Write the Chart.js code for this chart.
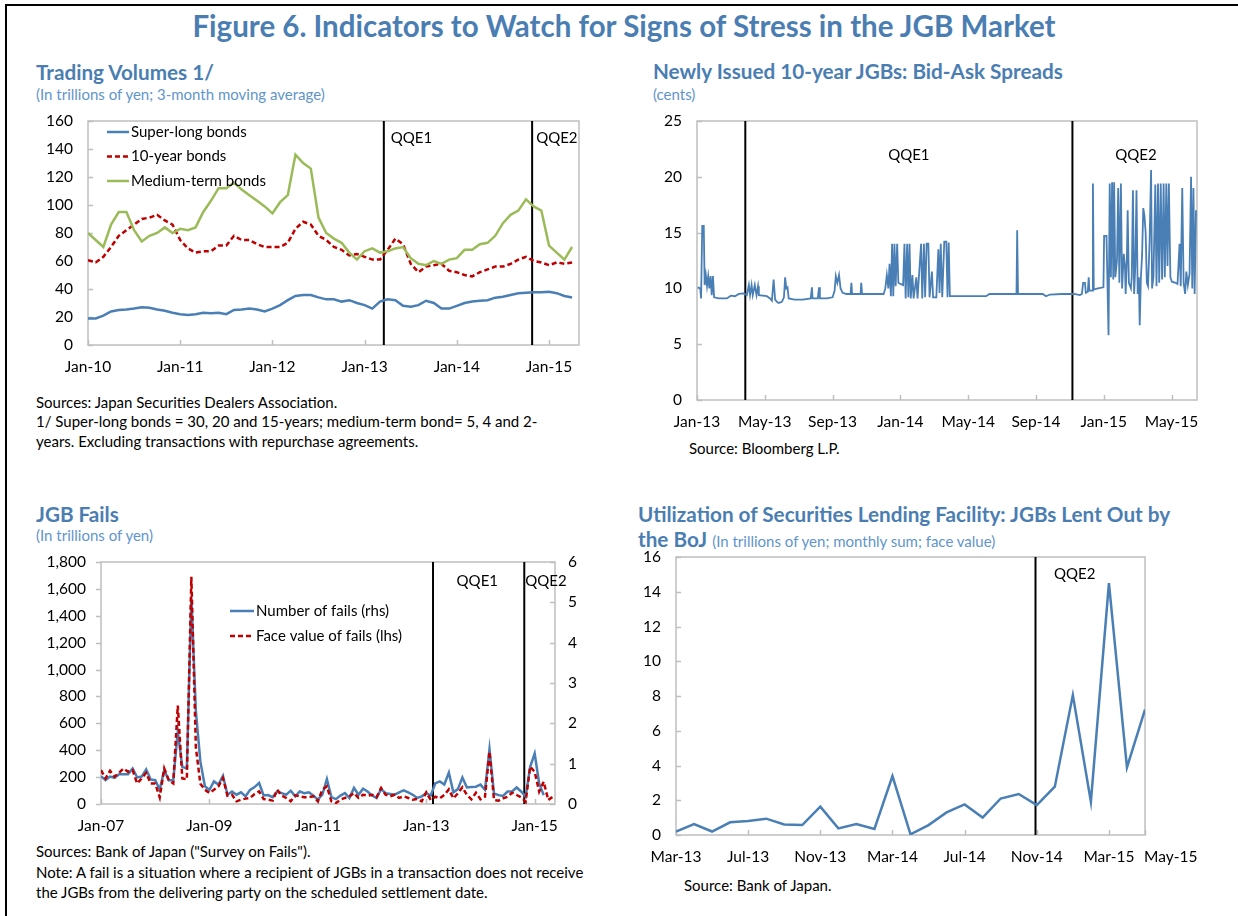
<!DOCTYPE html>
<html lang="en">
<head>
<meta charset="UTF-8">
<title>Figure 6. Indicators to Watch for Signs of Stress in the JGB Market</title>
<script src="https://cdn.jsdelivr.net/npm/chart.js"></script>
<style>
  body { margin: 0; background: #fff; font-family: Lato, 'Open Sans', sans-serif; }
  #page { position: relative; width: 1238px; height: 916px; overflow: hidden; }
  #frame { position: absolute; left: 5px; top: 4px; width: 1300px; height: 1000px;
           border-top: 2px solid #000; border-left: 2px solid #000; }
  .txt { position: absolute; white-space: nowrap; line-height: 1; }
  .title { left: 10px; width: 1228px; text-align: center; top: 11px; font-size: 29.5px; font-weight: bold; color: #4a7eb2; }
  .head { color: #4a7eb2; font-weight: bold; font-size: 20.7px; }
  .sub { color: #5f95cc; font-size: 15px; font-weight: normal; }
  .note { color: #000; font-size: 15px; }
  canvas { position: absolute; }
</style>
</head>
<body>
<div id="page">
  <div id="frame"></div>
  <div class="txt title">Figure 6. Indicators to Watch for Signs of Stress in the JGB Market</div>

  <div class="txt head" style="left:36px; top:61.5px;">Trading Volumes 1/</div>
  <div class="txt sub" style="left:36px; top:86.7px;">(In trillions of yen; 3-month moving average)</div>
  <div class="txt note" style="left:36px; top:395px;">Sources: Japan Securities Dealers Association.</div>
  <div class="txt note" style="left:36px; top:414px;">1/ Super-long bonds = 30, 20 and 15-years; medium-term bond= 5, 4 and 2-</div>
  <div class="txt note" style="left:36px; top:434px;">years. Excluding transactions with repurchase agreements.</div>

  <div class="txt head" style="left:653px; top:61px;">Newly Issued 10-year JGBs: Bid-Ask Spreads</div>
  <div class="txt sub" style="left:653px; top:86.7px;">(cents)</div>
  <div class="txt note" style="left:689px; top:441px;">Source: Bloomberg L.P.</div>

  <div class="txt head" style="left:36px; top:503.6px;">JGB Fails</div>
  <div class="txt sub" style="left:36px; top:527.7px;">(In trillions of yen)</div>
  <div class="txt note" style="left:36px; top:844px;">Sources: Bank of Japan ("Survey on Fails").</div>
  <div class="txt note" style="left:36px; top:865px;">Note: A fail is a situation where a recipient of JGBs in a transaction does not receive</div>
  <div class="txt note" style="left:36px; top:885px;">the JGBs from the delivering party on the scheduled settlement date.</div>

  <div class="txt head" style="left:638px; top:503.6px;">Utilization of Securities Lending Facility: JGBs Lent Out by</div>
  <div class="txt head" style="left:638px; top:528.6px;">the BoJ <span class="sub">(In trillions of yen; monthly sum; face value)</span></div>
  <div class="txt note" style="left:684px; top:878px;">Source: Bank of Japan.</div>

  <canvas id="volumes"></canvas>
  <canvas id="spreads"></canvas>
  <canvas id="fails"></canvas>
  <canvas id="lending"></canvas>
</div>

<script>
// ---- Trading volumes, monthly from Jan-10 (trillions of yen) ----
const volumeTicks = ['Jan-10', 'Jan-11', 'Jan-12', 'Jan-13', 'Jan-14', 'Jan-15'];
const superLong = [19, 19, 21, 24, 25, 25.4, 26, 27, 26.6, 25.4,
                   24.5, 23, 22, 21.4, 22, 23, 22.6, 23, 22, 25,
                   25.4, 26, 25.4, 24, 26, 28.5, 32, 35, 35.7, 35.7,
                   34, 32.6, 32.6, 31, 32, 30, 28.5, 26, 31, 32.6,
                   32, 28, 27.3, 28.5, 31.6, 30, 26, 26, 28, 30,
                   31, 31.6, 32, 33.8, 34.5, 35.7, 37, 37.3, 37.6, 37.6,
                   38, 37, 35, 34];
const tenYear = [60.6, 59, 63, 70, 78, 82, 86, 90, 91, 93,
                 89, 86, 75, 69, 66, 67, 67, 71, 71, 78,
                 75, 75, 72, 70, 70, 70, 73, 83, 88, 86,
                 78, 75, 70, 68, 64, 65, 63, 61, 61, 68,
                 76, 72, 58, 52, 56, 57, 58, 53, 52, 50,
                 49, 52, 54, 56, 56, 58, 61, 63, 60, 59,
                 57, 59, 58, 59];
const mediumTerm = [80, 75, 70, 86, 95, 95, 82, 74, 78, 80,
                    84, 80, 83, 82, 84, 95, 103, 112, 112, 116,
                    111, 107, 103, 99, 94, 102, 107, 136, 130, 126,
                    91, 80, 76, 73, 66, 61, 67, 69, 66, 67,
                    69, 70, 62, 58, 57, 60, 58, 61, 62, 68,
                    68, 72, 73, 78, 87, 93, 96, 104, 99, 96,
                    71, 66, 61, 70];

// ---- Bid-ask spreads (cents); x = months since Jan-13 ----
const spreadTicks = ['Jan-13', 'May-13', 'Sep-13', 'Jan-14', 'May-14', 'Sep-14', 'Jan-15', 'May-15'];
const spreadMonths = [
  0.05, 0.19, 0.24, 0.31, 0.40, 0.45, 0.52, 0.59, 0.66, 0.73,
  0.80, 0.87, 0.94, 1.01, 1.29, 1.76, 2.00, 2.24, 2.47, 2.75,
  2.94, 3.06, 3.13, 3.22, 3.29, 3.41, 3.51, 3.60, 3.65, 4.12,
  4.31, 4.42, 4.52, 4.61, 4.71, 4.82, 5.01, 5.13, 5.20, 5.27,
  5.34, 5.41, 5.76, 6.24, 6.71, 6.78, 6.82, 7.13, 7.20, 7.25,
  7.65, 8.00, 8.12, 8.19, 8.28, 8.38, 8.47, 8.59, 8.82, 9.06,
  9.11, 9.15, 9.65, 9.69, 9.74, 10.47,
  11.01, 11.11, 11.20, 11.29, 11.36, 11.44, 11.51, 11.58, 11.65, 11.72,
  11.81, 11.88, 12.00, 12.16, 12.24, 12.31, 12.40, 12.47, 12.54, 12.61,
  12.71, 12.78, 12.94, 13.01, 13.22, 13.29, 13.39, 13.46, 13.55, 13.65,
  13.72, 13.86, 13.93, 14.12, 14.24, 14.31, 14.38, 14.47, 14.59, 14.71,
  14.78, 14.85, 14.92,
  15.18, 15.88, 16.59, 17.06, 17.25, 18.00, 18.85, 18.89, 18.94, 19.65,
  20.40, 20.59, 20.82, 21.53,
  22.24, 22.59, 22.71, 22.78, 22.89, 22.94, 23.06, 23.11, 23.15, 23.32,
  23.36, 23.41, 23.65, 23.98, 24.02, 24.16, 24.28, 24.35, 24.42, 24.49,
  24.56, 24.61, 24.68, 24.78, 24.85, 24.92, 25.01, 25.08, 25.18, 25.25,
  25.29, 25.36, 25.41, 25.48, 25.60, 25.65, 25.72, 25.79, 25.86, 25.93,
  26.00, 26.07, 26.12, 26.19, 26.26, 26.33, 26.40, 26.47, 26.54, 26.61,
  26.70, 26.79, 26.85, 26.93, 27.04, 27.11, 27.20, 27.27, 27.36, 27.44,
  27.53, 27.60, 27.69, 27.76, 27.84, 27.93, 28.02, 28.24, 28.35, 28.47,
  28.54, 28.63, 28.71, 28.80, 28.87, 28.96, 29.06, 29.15, 29.22, 29.29,
  29.36, 29.44];
const spreadValues = [
  10.1, 10.0, 9.1, 15.6, 15.6, 10.3, 11.2, 10.2, 11.1, 10.0,
  11.1, 9.4, 11.1, 9.2, 9.1, 9.1, 9.35, 9.3, 9.5, 9.55,
  9.4, 10.3, 9.4, 10.3, 9.4, 10.3, 9.4, 10.2, 9.4, 9.3,
  9.1, 8.9, 10.8, 9.0, 8.8, 8.7, 8.8, 9.2, 11.0, 10.0,
  10.1, 9.1, 9.0, 9.0, 9.1, 10.1, 9.1, 9.1, 10.1, 9.1,
  9.1, 9.2, 9.8, 11.1, 10.5, 11.2, 10.0, 9.6, 9.5, 9.5,
  10.5, 9.5, 9.5, 10.5, 9.5, 9.5,
  9.5, 10.0, 11.2, 10.0, 12.2, 9.3, 14.0, 9.3, 14.0, 10.2,
  14.0, 10.5, 10.4, 10.3, 14.0, 9.1, 14.0, 9.2, 14.0, 9.1,
  11.2, 9.1, 11.0, 9.1, 14.0, 9.1, 14.0, 9.2, 14.0, 14.0,
  9.2, 11.5, 9.2, 9.2, 13.5, 9.6, 14.0, 9.2, 14.2, 14.2,
  9.2, 14.1, 9.3,
  9.3, 9.3, 9.3, 9.3, 9.5, 9.5, 9.5, 15.2, 9.5, 9.5,
  9.5, 9.3, 9.45, 9.5,
  9.5, 9.4, 9.5, 10.5, 10.5, 9.6, 9.7, 11.0, 9.8, 9.8,
  19.4, 9.9, 10.0, 10.1, 14.7, 14.7, 5.8, 19.4, 11.0, 19.5,
  10.8, 19.5, 11.0, 12.5, 19.0, 10.5, 19.4, 10.0, 13.1, 12.0,
  9.5, 12.5, 17.0, 10.5, 10.0, 11.0, 18.8, 9.5, 12.0, 18.8,
  9.5, 11.0, 6.7, 11.0, 13.0, 17.2, 16.5, 15.0, 10.5, 10.2,
  14.0, 20.6, 10.0, 11.0, 19.3, 10.2, 19.4, 10.5, 19.4, 10.8,
  19.4, 11.0, 19.4, 12.0, 19.4, 11.0, 10.6, 10.5, 10.4, 14.0,
  10.2, 19.0, 10.5, 9.5, 11.5, 10.3, 11.3, 20.0, 10.0, 19.0,
  9.5, 17.0];

// ---- JGB fails, monthly from Jan-07 ----
const failsTicks = ['Jan-07', 'Jan-09', 'Jan-11', 'Jan-13', 'Jan-15'];
const failsNumber = [0.69, 0.59, 0.68, 0.65, 0.74, 0.74, 0.74, 0.88, 0.66, 0.68,
                     0.86, 0.61, 0.59, 0.36, 0.84, 0.59, 0.59, 1.79, 0.92, 0.88,
                     5.12, 2.3, 1.05, 0.44, 0.35, 0.56, 0.48, 0.7, 0.23, 0.31,
                     0.23, 0.29, 0.19, 0.35, 0.42, 0.52, 0.21, 0.22, 0.17, 0.31,
                     0.27, 0.23, 0.33, 0.19, 0.31, 0.27, 0.29, 0.21, 0.11, 0.23,
                     0.62, 0.17, 0.12, 0.21, 0.27, 0.15, 0.4, 0.23, 0.38, 0.31,
                     0.21, 0.15, 0.37, 0.27, 0.25, 0.23, 0.29, 0.34, 0.29, 0.23,
                     0.15, 0.19, 0.27, 0.21, 0.51, 0.56, 0.48, 0.78, 0.29, 0.37,
                     0.66, 0.41, 0.42, 0.43, 0.48, 0.35, 1.36, 0.26, 0.22, 0.2,
                     0.31, 0.31, 0.41, 0.31, 0.18, 0.92, 1.25, 0.51, 0.22];
const failsValue = [252, 190, 247, 203, 232, 264, 240, 252, 153, 190,
                    232, 153, 153, 49, 264, 178, 153, 733, 190, 183,
                    1690, 420, 150, 106, 82, 106, 131, 193, 62, 69,
                    20, 32, 40, 45, 74, 94, 37, 32, 25, 106,
                    62, 45, 20, 64, 57, 50, 52, 57, 20, 106,
                    131, 20, 7, 32, 45, 57, 82, 45, 69, 62,
                    69, 50, 119, 69, 57, 69, 45, 57, 45, 32,
                    37, 20, 87, 30, 54, 42, 67, 109, 42, 79,
                    124, 67, 35, 84, 35, 54, 389, 30, 25, 42,
                    54, 84, 67, 50, 17, 277, 240, 92, 166, 30,
                    54];

// ---- Securities lending facility, monthly from Mar-13 ----
const lendingTicks = ['Mar-13', 'Jul-13', 'Nov-13', 'Mar-14', 'Jul-14', 'Nov-14', 'Mar-15', 'May-15'];
const lendingValues = [0.2, 0.63, 0.2, 0.73, 0.8, 0.94, 0.61, 0.57, 1.63, 0.38,
                       0.63, 0.35, 3.39, 0.04, 0.57, 1.3, 1.76, 1.0, 2.1, 2.36,
                       1.72, 2.78, 8.05, 1.92, 14.5, 3.89, 7.22];

const blue = '#4a7fb5';
const red = '#c00000';
const green = '#9bbb59';

Chart.defaults.font.family = 'Lato, "Open Sans", sans-serif';
Chart.defaults.font.size = 15.5;
Chart.defaults.color = '#000';

// plot frame and the small tick marks
const framePlugin = {
  id: 'frame',
  beforeDatasetsDraw(chart, args, opts) {
    const { ctx, chartArea: a } = chart;
    ctx.save();
    ctx.strokeStyle = '#bfbfbf';
    ctx.lineWidth = 1.5;
    ctx.strokeRect(a.left, a.top, a.width, a.height);
    (opts.ticks || []).forEach(t => {
      const s = chart.scales[t.axis];
      s.ticks.forEach(tk => {
        const p = Math.round(s.getPixelForValue(tk.value)) + 0.5;
        ctx.beginPath();
        if (s.isHorizontal()) { ctx.moveTo(p, a.bottom); ctx.lineTo(p, a.bottom - t.len); }
        else if (s.position === 'right') { ctx.moveTo(a.right, p); ctx.lineTo(a.right - t.len, p); }
        else { ctx.moveTo(a.left, p); ctx.lineTo(a.left + t.len, p); }
        ctx.stroke();
      });
    });
    ctx.restore();
  }
};

// QQE vertical lines and their labels
const markerPlugin = {
  id: 'markers',
  beforeDatasetsDraw(chart, args, opts) {
    const { ctx, chartArea: a, scales } = chart;
    ctx.save();
    ctx.strokeStyle = '#000';
    ctx.lineWidth = 2;
    (opts.lines || []).forEach(v => {
      const px = scales.x.getPixelForValue(v);
      ctx.beginPath(); ctx.moveTo(px, a.top); ctx.lineTo(px, a.bottom); ctx.stroke();
    });
    ctx.fillStyle = '#000';
    ctx.font = '15px Lato';
    ctx.textBaseline = 'middle';
    (opts.labels || []).forEach(l => {
      ctx.textAlign = l.align || 'center';
      ctx.fillText(l.text, scales.x.getPixelForValue(l.x) + (l.dx || 0), scales.y.getPixelForValue(l.y));
    });
    ctx.restore();
  }
};

// legend drawn inside the plot area
const keyPlugin = {
  id: 'key',
  afterDatasetsDraw(chart, args, opts) {
    if (!opts.items) return;
    const { ctx, chartArea: a } = chart;
    ctx.save();
    ctx.font = '15px Lato';
    ctx.textBaseline = 'middle';
    ctx.textAlign = 'left';
    ctx.fillStyle = '#000';
    opts.items.forEach((idx, row) => {
      const ds = chart.data.datasets[idx];
      const y = a.top + opts.top + row * opts.step;
      const x0 = a.left + opts.left;
      ctx.strokeStyle = ds.borderColor;
      ctx.lineWidth = ds.borderWidth;
      ctx.setLineDash(ds.borderDash || []);
      ctx.beginPath(); ctx.moveTo(x0, y); ctx.lineTo(x0 + opts.len, y); ctx.stroke();
      ctx.setLineDash([]);
      ctx.fillText(ds.label, x0 + opts.len + 2, y);
    });
    ctx.restore();
  }
};

// put the canvas on the page and pin its plot area to the given box
function buildChart(id, box, plot, cfg) {
  const cv = document.getElementById(id);
  cv.width = box.w; cv.height = box.h;
  cv.style.left = box.x + 'px'; cv.style.top = box.y + 'px';
  cv.style.width = box.w + 'px'; cv.style.height = box.h + 'px';
  const sc = cfg.options.scales;
  // vertical axes: fixed width, and no extra room reserved above/below for the end labels
  const fitY = w => s => { s.width = w; s.paddingTop = 0; s.paddingBottom = 0; };
  sc.x.afterFit = s => { s.height = box.y + box.h - plot.bottom; };
  sc.y.afterFit = fitY(plot.left - box.x);
  let right = box.x + box.w - plot.right;
  if (sc.y1) { sc.y1.afterFit = fitY(right); right = 0; }
  cfg.options.layout = { autoPadding: false,
                         padding: { top: plot.top - box.y, right: right, left: 0, bottom: 0 } };
  cfg.options.responsive = false;
  cfg.options.animation = false;
  cfg.options.plugins = Object.assign({ legend: { display: false }, tooltip: { enabled: false } }, cfg.options.plugins);
  cfg.plugins = [framePlugin, markerPlugin, keyPlugin];
  return new Chart(cv, cfg);
}

function monthly(values) {
  return values.map((v, i) => ({ x: i, y: v }));
}

function xAxis(labels, step, max) {
  return {
    type: 'linear', min: 0, max: max,
    grid: { display: false, drawTicks: false }, border: { display: false },
    afterBuildTicks: s => { s.ticks = labels.map((_, i) => ({ value: i * step })); },
    ticks: { autoSkip: false, maxRotation: 0, padding: 13,
             callback: v => labels[Math.round(v / step)] }
  };
}

function yAxis(max, step, extra) {
  return Object.assign({
    min: 0, max: max,
    grid: { display: false, drawTicks: false }, border: { display: false },
    ticks: { stepSize: step, padding: 15 }
  }, extra || {});
}

const line = { pointRadius: 0, tension: 0, fill: false };

// Trading volumes
buildChart('volumes', { x: 30, y: 105, w: 580, h: 285 }, { left: 88, top: 121, right: 579, bottom: 345 }, {
  type: 'line',
  data: {
    datasets: [
      Object.assign({ label: 'Super-long bonds', data: monthly(superLong), borderColor: blue, borderWidth: 2.5, order: 2 }, line),
      Object.assign({ label: '10-year bonds', data: monthly(tenYear), borderColor: red, borderWidth: 2.5, borderDash: [5, 3], order: 1 }, line),
      Object.assign({ label: 'Medium-term bonds', data: monthly(mediumTerm), borderColor: green, borderWidth: 2.5, order: 0 }, line)
    ]
  },
  options: {
    scales: { x: xAxis(volumeTicks, 12, 63.9), y: yAxis(160, 20) },
    plugins: {
      frame: { ticks: [{ axis: 'x', len: 5 }, { axis: 'y', len: 5 }] },
      markers: { lines: [38.5, 57.8],
                 labels: [{ text: 'QQE1', x: 38.5, y: 148, dx: 7, align: 'left' },
                          { text: 'QQE2', x: 57.8, y: 148, dx: 4, align: 'left' }] },
      key: { items: [0, 1, 2], left: 19, top: 11, step: 24.5, len: 22 }
    }
  }
});

// Bid-ask spreads
buildChart('spreads', { x: 640, y: 105, w: 590, h: 330 }, { left: 697, top: 121, right: 1197, bottom: 400 }, {
  type: 'line',
  data: {
    datasets: [
      Object.assign({ label: 'Bid-ask spread',
                      data: spreadMonths.map((m, i) => ({ x: m, y: spreadValues[i] })),
                      borderColor: blue, borderWidth: 1.8 }, line)
    ]
  },
  options: {
    scales: { x: xAxis(spreadTicks, 4, 29.5), y: yAxis(25, 5) },
    plugins: {
      frame: { ticks: [{ axis: 'x', len: 5 }, { axis: 'y', len: 5 }] },
      markers: { lines: [2.85, 22.15],
                 labels: [{ text: 'QQE1', x: 12.5, y: 21.9 }, { text: 'QQE2', x: 25.9, y: 21.9 }] }
    }
  }
});

// JGB fails
buildChart('fails', { x: 30, y: 545, w: 580, h: 310 }, { left: 101, top: 562, right: 555, bottom: 804 }, {
  type: 'line',
  data: {
    datasets: [
      Object.assign({ label: 'Number of fails (rhs)', data: monthly(failsNumber), yAxisID: 'y1',
                      borderColor: blue, borderWidth: 2.5, order: 1 }, line),
      Object.assign({ label: 'Face value of fails (lhs)', data: monthly(failsValue), yAxisID: 'y',
                      borderColor: red, borderWidth: 2.5, borderDash: [5, 3], order: 0 }, line)
    ]
  },
  options: {
    scales: {
      x: xAxis(failsTicks, 24, 100.5),
      y: yAxis(1800, 200, { position: 'left' }),
      y1: yAxis(6, 1, { position: 'right' })
    },
    plugins: {
      frame: { ticks: [{ axis: 'x', len: 5 }, { axis: 'y', len: -5 }, { axis: 'y1', len: 5 }] },
      markers: { lines: [73.5, 93.7],
                 labels: [{ text: 'QQE1', x: 83.3, y: 1654 }, { text: 'QQE2', x: 98.5, y: 1654 }] },
      key: { items: [0, 1], left: 129, top: 49, step: 25, len: 24 }
    }
  }
});
Chart.getChart('fails').options.scales.y.ticks.callback = v => v.toLocaleString('en-US');
Chart.getChart('fails').options.scales.y1.ticks.padding = 13;
Chart.getChart('fails').update();

// Securities lending facility
const lendingAxis = xAxis(lendingTicks, 4, 26);
lendingAxis.afterBuildTicks = s => {
  s.ticks = lendingTicks.map((_, i) => ({ value: Math.min(i * 4, 26) }));
};
lendingAxis.ticks.callback = (v, i) => (v === 26 ? '             ' + lendingTicks[i] : lendingTicks[i]);
buildChart('lending', { x: 620, y: 540, w: 610, h: 330 }, { left: 676, top: 557, right: 1145, bottom: 835 }, {
  type: 'line',
  data: {
    datasets: [
      Object.assign({ label: 'JGBs lent out', data: monthly(lendingValues), borderColor: blue, borderWidth: 2.5 }, line)
    ]
  },
  options: {
    scales: { x: lendingAxis, y: yAxis(16, 2) },
    plugins: {
      frame: { ticks: [{ axis: 'x', len: 5 }, { axis: 'y', len: 5 }] },
      markers: { lines: [19.93], labels: [{ text: 'QQE2', x: 22.1, y: 15.0 }] }
    }
  }
});
</script>
</body>
</html>
